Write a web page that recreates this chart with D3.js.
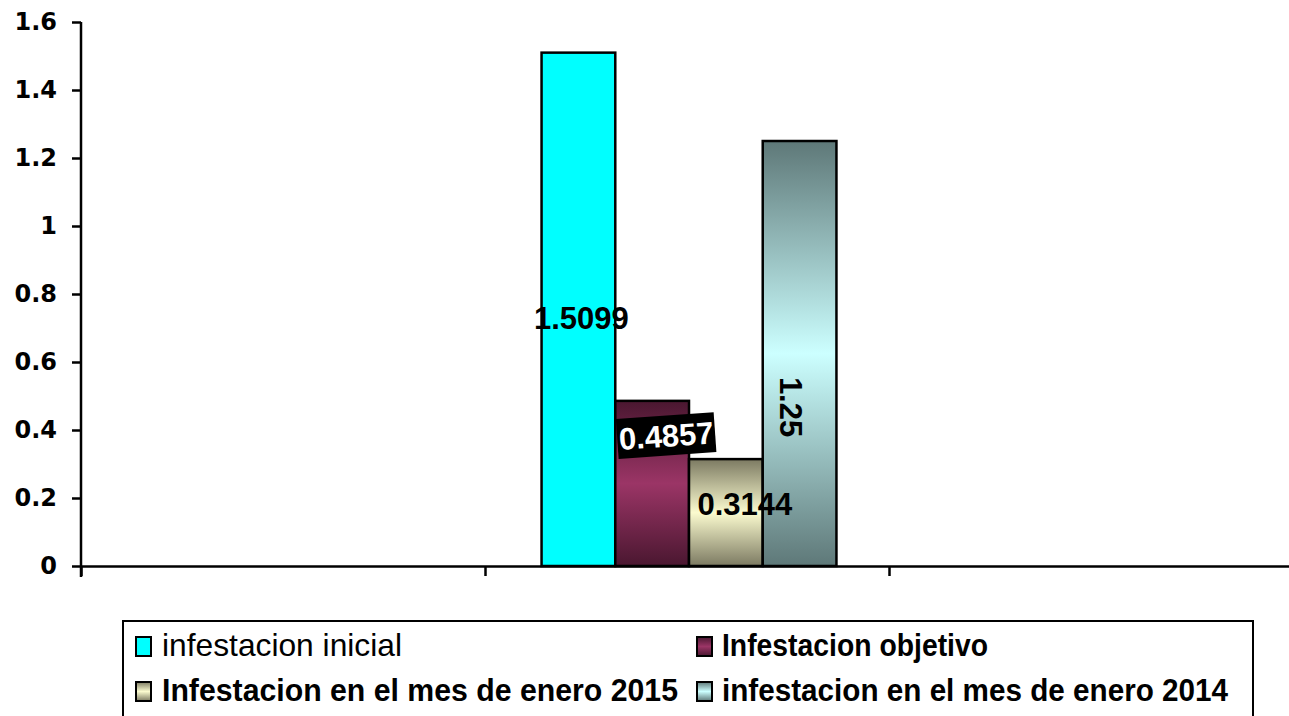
<!DOCTYPE html>
<html>
<head>
<meta charset="utf-8">
<script src="https://cdn.jsdelivr.net/npm/d3@7"></script>
<style>
  html, body { margin: 0; padding: 0; background: #fff; }
  svg { display: block; }
</style>
</head>
<body>
<div id="chart"></div>
<script>
// Datos
const categorySlots = [0, 1, 2];   // tres categorías sin nombre, los datos van en la del medio
const dataSlot = 1;
const seriesNames = [
  'infestacion inicial',
  'Infestacion objetivo',
  'Infestacion en el mes de enero 2015',
  'infestacion en el mes de enero 2014'
];
const seriesValues = [1.5099, 0.4857, 0.3144, 1.25];
const valueLabels = ['1.5099', '0.4857', '0.3144', '1.25'];
const yTicks = [0, 0.2, 0.4, 0.6, 0.8, 1, 1.2, 1.4, 1.6];
const yTickLabels = ['0', '0.2', '0.4', '0.6', '0.8', '1', '1.2', '1.4', '1.6'];

document.addEventListener('DOMContentLoaded', function () {
  const W = 1289, H = 716;
  const left = 81, top = 22, bottom = 566;
  const catW = 404;

  const svg = d3.select('#chart').append('svg')
    .attr('width', W)
    .attr('height', H);

  // Degradados (oscuro - claro - oscuro) como en Excel
  const grads = [
    null,
    ['#4a1730', '#9b3566', '#4a1730'],
    ['#7c7a62', '#fbfbcf', '#7c7a62'],
    ['#5e7878', '#ccffff', '#5e7878']
  ];
  const fills = ['#00ffff', null, null, null];
  const defs = svg.append('defs');
  grads.forEach((g, i) => {
    if (!g) return;
    const lg = defs.append('linearGradient')
      .attr('id', 'g' + i)
      .attr('x1', 0).attr('y1', 0).attr('x2', 0).attr('y2', 1);
    lg.append('stop').attr('offset', '0%').attr('stop-color', g[0]);
    lg.append('stop').attr('offset', '50%').attr('stop-color', g[1]);
    lg.append('stop').attr('offset', '100%').attr('stop-color', g[2]);
    fills[i] = 'url(#g' + i + ')';
  });

  const y = d3.scaleLinear().domain([0, 1.6]).range([bottom, top]);
  const x = d3.scaleBand().domain(categorySlots)
    .range([left, left + catW * categorySlots.length])
    .padding(0);
  const xEdges = d3.scaleLinear().domain([0, categorySlots.length])
    .range([left, left + catW * categorySlots.length]);
  const xs = d3.scaleBand().domain(d3.range(seriesValues.length))
    .range([2, x.bandwidth() + 2])
    .paddingInner(0)
    .paddingOuter(0.74);

  // Barras
  svg.append('g')
    .selectAll('rect')
    .data(seriesValues)
    .join('rect')
    .attr('x', (d, i) => x(dataSlot) + xs(i))
    .attr('y', d => y(d))
    .attr('width', xs.bandwidth())
    .attr('height', d => y(0) - y(d))
    .attr('fill', (d, i) => fills[i])
    .attr('stroke', '#000')
    .attr('stroke-width', 2.5);

  // Eje Y
  const yAxis = svg.append('g')
    .attr('transform', `translate(${left},0)`)
    .call(d3.axisLeft(y)
      .tickValues(yTicks)
      .tickFormat((d, i) => yTickLabels[i])
      .tickSize(9)
      .tickSizeOuter(0)
      .tickPadding(15));
  yAxis.select('.domain').attr('stroke', '#000').attr('stroke-width', 2.5)
    .attr('d', `M0,${top}V${bottom + 11}`);
  yAxis.selectAll('.tick line').attr('stroke', '#000').attr('stroke-width', 2.5);
  yAxis.selectAll('.tick text')
    .attr('fill', '#000')
    .style('font-family', '"DejaVu Sans", sans-serif')
    .style('font-weight', 'bold')
    .style('font-size', '24px');

  // Eje X
  const xAxis = svg.append('g')
    .attr('transform', `translate(0,${bottom})`)
    .call(d3.axisBottom(xEdges)
      .tickValues(d3.range(categorySlots.length + 1))
      .tickFormat('')
      .tickSize(10)
      .tickSizeOuter(0));
  xAxis.select('.domain').attr('stroke', '#000').attr('stroke-width', 2.5);
  xAxis.selectAll('.tick line').attr('stroke', '#000').attr('stroke-width', 2.5);

  // Etiquetas de datos (posiciones retocadas a mano como en el original)
  const labelFont = '"Liberation Sans", Arial, sans-serif';
  const labelStyle = [
    { dx: 3, at: 0.483, rot: 0, color: '#000', box: false },
    { dx: 14, at: 0.79, rot: -4, color: '#fff', box: true },
    { dx: 19, at: 0.58, rot: 0, color: '#000', box: false },
    { dx: -8, at: 0.374, rot: 90, color: '#000', box: false }
  ];
  const labels = svg.append('g')
    .selectAll('g')
    .data(seriesValues)
    .join('g')
    .attr('transform', (d, i) => {
      const s = labelStyle[i];
      const cx = x(dataSlot) + xs(i) + xs.bandwidth() / 2 + s.dx;
      const cy = y(d * s.at);
      return `translate(${cx},${cy}) rotate(${s.rot})`;
    });
  labels.each(function (d, i) {
    const s = labelStyle[i];
    const g = d3.select(this);
    if (s.box) {
      g.append('rect')
        .attr('x', -49).attr('y', -20)
        .attr('width', 98).attr('height', 40)
        .attr('fill', '#000');
    }
    g.append('text')
      .attr('text-anchor', 'middle')
      .attr('dy', '0.36em')
      .attr('fill', s.color)
      .style('font-family', labelFont)
      .style('font-weight', 'bold')
      .style('font-size', '31px')
      .text(valueLabels[i]);
  });

  // Leyenda
  const legend = svg.append('g');
  legend.append('rect')
    .attr('x', 123).attr('y', 621)
    .attr('width', 1130).attr('height', 130)
    .attr('fill', '#fff')
    .attr('stroke', '#000')
    .attr('stroke-width', 2);
  const legendPos = [[136, 637], [697, 637], [136, 682], [697, 682]];
  const legendTextX = [162, 722, 162, 722];
  const legendLen = [240, 266, 516, 506];
  const item = legend.selectAll('g.item')
    .data(seriesNames)
    .join('g')
    .attr('class', 'item')
    .attr('transform', (d, i) => `translate(${legendPos[i][0]},${legendPos[i][1]})`);
  item.append('rect')
    .attr('width', 15).attr('height', 19)
    .attr('fill', (d, i) => fills[i])
    .attr('stroke', '#000')
    .attr('stroke-width', 2);
  item.append('text')
    .attr('x', (d, i) => legendTextX[i] - legendPos[i][0])
    .attr('y', 19)
    .attr('textLength', (d, i) => legendLen[i])
    .attr('lengthAdjust', 'spacingAndGlyphs')
    .style('font-family', labelFont)
    .style('font-weight', (d, i) => i === 0 ? 'normal' : 'bold')
    .style('font-size', '32px')
    .attr('fill', '#000')
    .text(d => d);
});
</script>
</body>
</html>
